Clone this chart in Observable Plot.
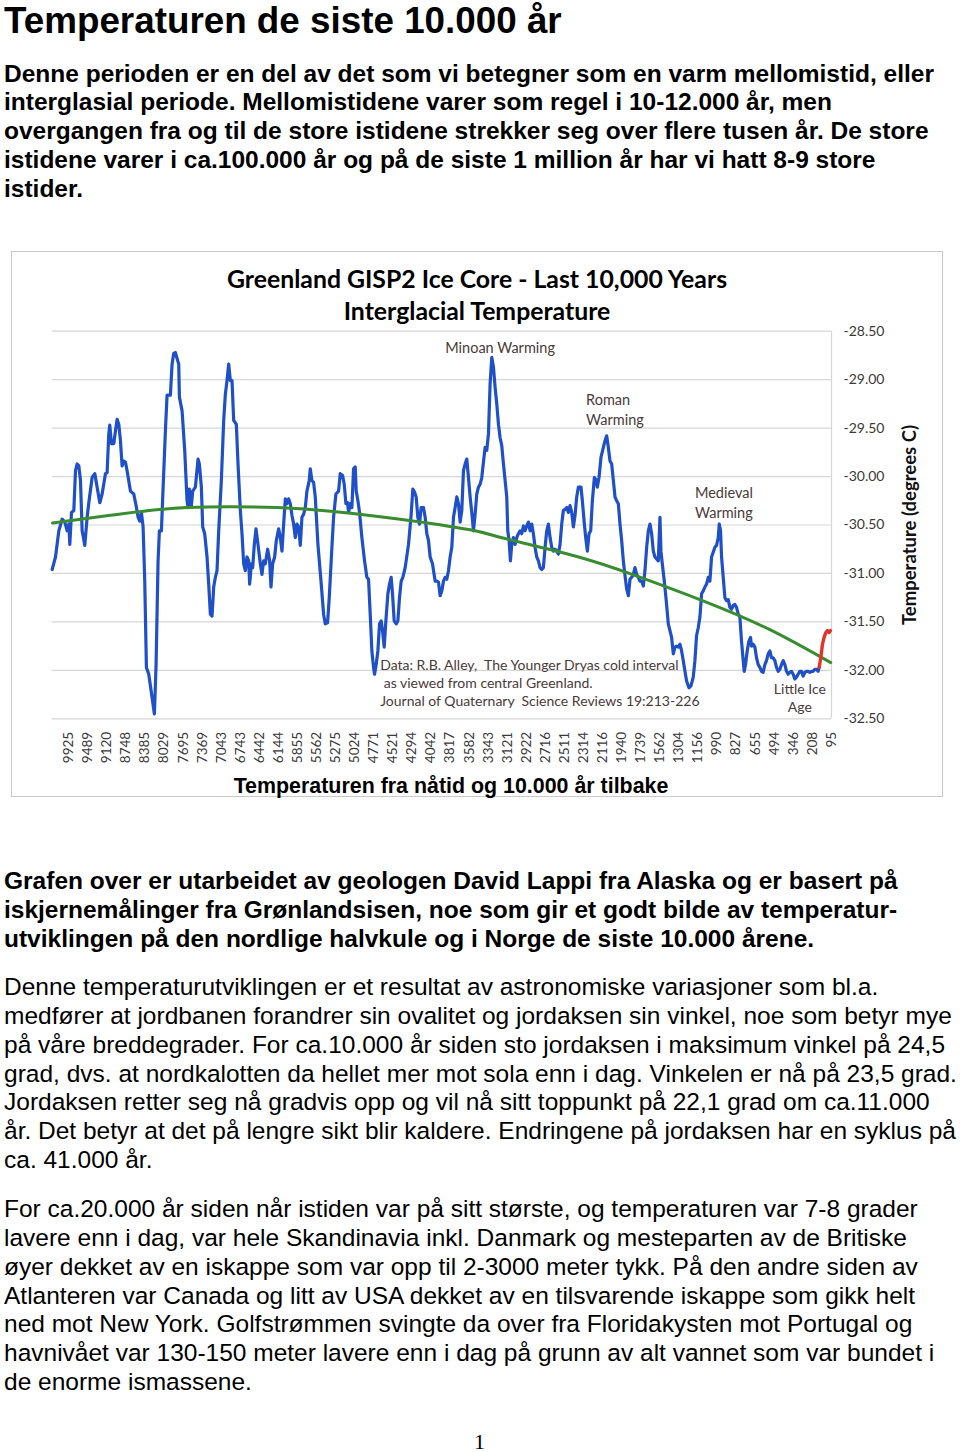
<!DOCTYPE html>
<html><head><meta charset="utf-8">
<script src="https://cdn.jsdelivr.net/npm/d3@7"></script>
<script src="https://cdn.jsdelivr.net/npm/@observablehq/plot@0.6"></script>
<style>
html,body{margin:0;padding:0;background:#fff}
body{position:relative;width:960px;height:1452px;overflow:hidden;font-family:"Liberation Sans",Arial,sans-serif;color:#000}
.t{position:absolute;left:4px;white-space:nowrap;font-size:24.5px;line-height:28.8px}
.b{font-weight:bold}
#h1{position:absolute;left:4px;top:0px;font-size:36.8px;line-height:41.2px;font-weight:bold;white-space:nowrap}
#box{position:absolute;left:11px;top:251px;width:930px;height:544px;border:1.5px solid #c9c9c9}
.ct{position:absolute;left:11px;width:932px;text-align:center;font-family:Lato,sans-serif;font-weight:bold;font-size:24.8px;line-height:31.7px;white-space:nowrap;color:#000}
#xt{position:absolute;left:11px;width:880px;text-align:center;top:773.6px;font-size:21.4px;line-height:24px;font-weight:bold;white-space:nowrap}
#chart{position:absolute;left:12px;top:322px}
#pg{position:absolute;left:474px;top:1430px;font-family:"Liberation Serif",serif;font-size:22px;line-height:24px}
</style></head>
<body>
<div id="h1">Temperaturen de siste 10.000 år</div>
<div class="t b" style="top:59.6px">Denne perioden er en del av det som vi betegner som en varm mellomistid, eller<br>interglasial periode. Mellomistidene varer som regel i 10-12.000 år, men<br>overgangen fra og til de store istidene strekker seg over flere tusen år. De store<br>istidene varer i ca.100.000 år og på de siste 1 million år har vi hatt 8-9 store<br>istider.</div>
<div id="box"></div>
<div class="ct" style="top:262.8px">Greenland GISP2 Ice Core - Last 10,000 Years</div>
<div class="ct" style="top:294.5px">Interglacial Temperature</div>
<div id="chart"></div>
<div id="xt">Temperaturen fra nåtid og 10.000 år tilbake</div>
<div class="t b" style="top:867.3px">Grafen over er utarbeidet av geologen David Lappi fra Alaska og er basert på<br>iskjernemålinger fra Grønlandsisen, noe som gir et godt bilde av temperatur-<br>utviklingen på den nordlige halvkule og i Norge de siste 10.000 årene.</div>
<div class="t" style="top:973.3px">Denne temperaturutviklingen er et resultat av astronomiske variasjoner som bl.a.<br>medfører at jordbanen forandrer sin ovalitet og jordaksen sin vinkel, noe som betyr mye<br>på våre breddegrader. For ca.10.000 år siden sto jordaksen i maksimum vinkel på 24,5<br>grad, dvs. at nordkalotten da hellet mer mot sola enn i dag. Vinkelen er nå på 23,5 grad.<br>Jordaksen retter seg nå gradvis opp og vil nå sitt toppunkt på 22,1 grad om ca.11.000<br>år. Det betyr at det på lengre sikt blir kaldere. Endringene på jordaksen har en syklus på<br>ca. 41.000 år.</div>
<div class="t" style="top:1195.3px">For ca.20.000 år siden når istiden var på sitt største, og temperaturen var 7-8 grader<br>lavere enn i dag, var hele Skandinavia inkl. Danmark og mesteparten av de Britiske<br>øyer dekket av en iskappe som var opp til 2-3000 meter tykk. På den andre siden av<br>Atlanteren var Canada og litt av USA dekket av en tilsvarende iskappe som gikk helt<br>ned mot New York. Golfstrømmen svingte da over fra Floridakysten mot Portugal og<br>havnivået var 130-150 meter lavere enn i dag på grunn av alt vannet som var bundet i<br>de enorme ismassene.</div>
<div id="pg">1</div>
<script>
// x-axis tick labels (years before present), one per 10 samples
const tickYears = ["9925", "9489", "9120", "8748", "8385", "8029", "7695", "7369", "7043", "6743", "6442", "6144", "5855", "5562", "5275", "5024", "4771", "4521", "4294", "4042", "3817", "3582", "3343", "3121", "2922", "2716", "2511", "2314", "2116", "1940", "1739", "1562", "1304", "1156", "990", "827", "655", "494", "346", "208", "95"];
const tempTicks = [-28.5, -29, -29.5, -30, -30.5, -31, -31.5, -32, -32.5];

// GISP2 temperature series (sample position, degrees C)
const blueIdx = [-8.72,-6.97,-5.22,-3.48,-2.08,-0.86,0.02,0.54,1.41,2.64,3.51,4.38,5.26,6.13,7.00,8.40,9.62,10.50,12.24,13.64,14.86,16.26,17.48,19.23,20.10,20.98,21.50,22.37,23.60,24.47,25.34,26.22,27.09,27.96,28.84,29.71,30.58,32.33,34.08,35.30,36.35,37.22,38.09,38.97,39.84,40.71,41.94,43.68,44.90,45.78,46.82,47.52,48.57,49.27,50.67,51.54,53.29,54.16,55.03,55.90,
57.66,58.01,59.40,60.80,62.02,62.55,63.25,64.29,64.99,66.39,67.79,68.48,69.53,70.23,71.28,72.50,73.38,74.25,75.12,76.00,76.87,77.74,78.62,80.01,81.24,82.11,82.98,83.86,84.73,85.60,86.48,87.87,88.75,89.97,90.84,91.72,92.59,93.46,94.34,94.86,95.73,96.43,97.30,98.18,99.23,100.45,101.32,102.20,103.07,104.29,105.34,106.04,106.91,107.96,108.83,110.06,110.93,111.80,112.68,113.55,114.42,115.29,116.17,117.04,117.91,118.79,119.66,120.53,121.41,122.28,123.15,124.03,
124.89,126.12,126.64,127.51,128.39,129.26,130.66,132.40,133.63,134.50,135.72,136.60,137.99,138.87,140.09,141.49,142.36,143.58,144.46,145.33,146.20,146.73,147.60,148.47,149.35,150.22,150.74,151.62,152.49,153.71,155.11,156.33,157.21,158.08,158.95,159.83,160.35,161.22,162.10,162.97,163.84,164.54,165.41,166.29,167.34,168.21,169.08,169.78,170.65,171.70,172.58,173.45,174.32,175.19,176.42,178.17,179.56,180.43,181.31,182.18,183.06,183.93,184.80,186.02,186.90,187.77,188.64,189.52,190.74,192.14,
193.01,193.89,194.76,195.63,196.51,197.38,198.25,199.13,200.00,200.87,201.75,202.62,203.49,204.37,205.24,206.11,206.99,207.86,208.73,209.61,210.48,211.35,212.23,213.10,213.97,214.85,215.72,216.59,217.47,218.34,219.21,220.09,220.96,221.83,222.71,223.58,224.45,225.33,226.20,227.07,227.95,228.82,229.69,230.22,230.91,231.61,232.31,233.18,234.06,234.93,235.80,236.68,237.55,238.42,239.30,240.17,241.04,241.92,242.79,243.66,244.54,245.41,246.28,247.16,248.03,248.90,249.78,250.65,251.52,252.40,253.27,254.14,255.02,255.89,256.76,257.64,258.51,259.38,260.26,
261.13,262.01,262.88,263.75,264.63,265.50,266.37,267.25,268.64,269.34,270.39,271.09,271.96,272.84,273.71,274.58,275.63,276.33,277.20,278.07,279.12,280.35,281.22,282.09,282.97,283.84,284.71,285.59,286.46,287.33,288.21,289.08,289.95,290.83,291.70,292.57,293.45,294.32,295.19,296.07,296.94,297.81,298.69,299.56,300.44,301.31,302.18,303.06,303.93,304.80,305.67,306.55,307.42,308.29,309.17,310.04,310.56,311.26,312.31,313.18,314.41,316.15,317.03,317.90,318.77,319.65,320.52,321.39,322.27,323.14,324.01,325.23,326.28,327.50,328.37,
329.24,330.12,330.99,331.86,332.74,333.61,334.48,335.36,336.23,337.10,337.98,338.85,339.72,340.60,341.12,341.82,342.34,343.22,344.09,344.96,345.84,346.71,347.58,348.46,349.33,350.20,351.08,351.95,352.82,353.70,354.22,354.92,355.79,356.67,357.54,358.06,358.94,359.81,360.68,361.56,362.43,363.30,364.18,365.05,365.92,366.80,367.67,368.54,369.42,370.29,371.16,372.04,372.91,373.78,374.66,375.53,376.40,377.28,378.15,379.02,379.90,380.77,381.64,382.51,383.39,384.26,385.13,386.01,386.88,387.75,388.63,389.50,390.37,391.25,392.12,392.99,393.52];
const blueTemp = [-30.96,-30.83,-30.56,-30.44,-30.47,-30.56,-30.49,-30.70,-30.37,-30.35,-29.94,-29.87,-29.89,-30.04,-30.56,-30.71,-30.42,-30.27,-30.01,-29.97,-30.11,-30.27,-30.18,-29.97,-29.96,-29.56,-29.47,-29.66,-29.66,-29.53,-29.41,-29.46,-29.63,-29.89,-29.84,-29.85,-29.94,-30.15,-30.18,-30.30,-30.42,-30.46,-30.37,-30.52,-31.08,-31.97,-32.04,-32.28,-32.45,-31.94,-30.87,-30.56,-30.56,-30.21,-29.53,-29.16,-29.16,-28.84,-28.73,-28.72,
-28.84,-29.18,-29.32,-29.73,-30.25,-30.32,-30.13,-30.30,-30.15,-30.11,-29.82,-29.87,-30.11,-30.52,-30.59,-30.83,-31.11,-31.42,-31.44,-31.14,-31.04,-30.97,-30.56,-30.04,-29.42,-29.15,-29.01,-28.84,-29.01,-29.01,-29.42,-29.46,-29.87,-30.35,-30.59,-30.90,-30.97,-30.83,-30.87,-31.11,-30.90,-30.94,-30.70,-30.54,-30.70,-30.90,-31.01,-30.87,-30.90,-30.75,-30.87,-31.14,-30.90,-30.83,-30.66,-30.54,-30.63,-30.77,-30.49,-30.23,-30.28,-30.23,-30.28,-30.40,-30.49,-30.63,-30.49,-30.52,-30.71,-30.42,-30.39,-30.32,
-30.15,-30.04,-29.92,-30.04,-30.06,-30.21,-30.70,-31.11,-31.42,-31.52,-31.51,-31.25,-30.73,-30.42,-30.18,-30.15,-29.97,-29.99,-30.08,-30.28,-30.27,-30.37,-30.28,-30.32,-29.92,-29.90,-30.15,-30.25,-30.37,-30.63,-30.87,-31.04,-31.06,-31.42,-31.80,-31.97,-32.04,-31.94,-31.80,-31.52,-31.49,-31.59,-31.76,-31.49,-31.21,-31.11,-31.04,-31.21,-31.49,-31.52,-31.49,-31.25,-31.08,-31.04,-30.94,-30.70,-30.39,-30.13,-30.16,-30.21,-30.42,-30.49,-30.32,-30.32,-30.42,-30.59,-30.66,-30.83,-30.90,-31.08,
-31.08,-31.09,-31.23,-31.18,-31.08,-31.04,-31.06,-30.97,-30.83,-30.73,-30.42,-30.32,-30.21,-30.28,-30.47,-30.35,-29.94,-29.87,-29.82,-30.01,-30.21,-30.37,-30.56,-30.39,-30.18,-30.11,-30.08,-30.01,-29.85,-29.70,-29.73,-29.56,-29.04,-28.77,-28.87,-29.08,-29.25,-29.46,-29.60,-29.68,-29.87,-30.04,-30.21,-30.56,-30.66,-30.87,-30.70,-30.63,-30.70,-30.63,-30.59,-30.56,-30.59,-30.51,-30.56,-30.51,-30.47,-30.56,-30.49,-30.59,-30.73,-30.83,-30.87,-30.94,-30.96,-30.94,-30.73,-30.56,-30.49,-30.63,-30.73,-30.77,-30.75,-30.77,-30.80,-30.70,-30.49,-30.35,-30.34,
-30.32,-30.37,-30.30,-30.37,-30.52,-30.40,-30.21,-30.11,-30.11,-30.25,-30.49,-30.63,-30.77,-30.59,-30.56,-30.25,-30.01,-30.03,-30.11,-30.01,-29.80,-29.70,-29.63,-29.58,-29.70,-29.84,-29.87,-30.04,-30.21,-30.25,-30.28,-30.49,-30.66,-30.87,-31.02,-31.16,-31.23,-31.06,-31.04,-31.01,-30.94,-31.01,-31.04,-31.08,-31.08,-31.13,-30.97,-30.73,-30.56,-30.49,-30.59,-30.77,-30.83,-30.85,-30.87,-30.42,-30.77,-30.90,-31.08,-31.25,-31.52,-31.66,-31.83,-31.76,-31.75,-31.76,-31.73,-31.80,-31.90,-32.01,-32.11,-32.18,-32.16,-32.07,-31.90,
-31.64,-31.56,-31.45,-31.21,-31.18,-31.14,-31.11,-31.04,-31.08,-30.83,-30.78,-30.73,-30.71,-30.63,-30.49,-30.56,-30.83,-31.04,-31.25,-31.28,-31.27,-31.35,-31.37,-31.33,-31.32,-31.35,-31.42,-31.45,-31.70,-31.90,-32.01,-31.94,-31.80,-31.70,-31.66,-31.75,-31.73,-31.76,-31.87,-31.94,-31.97,-32.01,-32.02,-31.94,-31.90,-31.83,-31.80,-31.87,-31.87,-31.90,-31.97,-32.01,-31.99,-31.94,-31.90,-31.94,-32.01,-32.04,-32.02,-32.01,-32.04,-32.09,-32.07,-32.04,-32.01,-32.01,-32.06,-32.02,-32.01,-32.01,-32.02,-32.01,-32.01,-31.99,-31.99,-32.01,-31.97];

// Recent warming (red segment)
const redIdx = [393.52,394.39,395.26,396.14,397.01,397.88,398.76,399.46];
const redTemp = [-31.97,-31.87,-31.73,-31.66,-31.61,-31.59,-31.61,-31.59];

// Long-term trend (green curve)
const trendIdx = [-8.54,21.85,62.2,109.4,138.7,173.8,210.5,228.8,265.5,296.9,333.6,367.7,399.6];
const trendTemp = [-30.48,-30.40,-30.32,-30.32,-30.36,-30.44,-30.55,-30.64,-30.82,-31.02,-31.29,-31.58,-31.92];

const tickIdx = tickYears.map((_, i) => i * 10);
const blue = blueIdx.map((x, i) => ({x, y: blueTemp[i]}));
const red = redIdx.map((x, i) => ({x, y: redTemp[i]}));
const trend = trendIdx.map((x, i) => ({x, y: trendTemp[i]}));

const annColor = "#4a3a3a";
const annFont = "Lato, sans-serif";

const chart = Plot.plot({
  width: 928,
  height: 445,
  marginLeft: 39.7,
  marginRight: 109,
  marginTop: 8.7,
  marginBottom: 48.7,
  style: {fontFamily: annFont, background: "transparent", overflow: "visible"},
  x: {domain: [-8.7, 400], axis: null},
  y: {domain: [-32.5, -28.5], axis: null},
  marks: [
    Plot.ruleY(tempTicks, {stroke: "#d6d6d6", strokeWidth: 1.2}),
    Plot.ruleX([400], {stroke: "#d6d6d6", strokeWidth: 1.2}),
    Plot.axisX(tickIdx, {anchor: "bottom", tickSize: 0, tickPadding: 13, tickRotate: -90,
      tickFormat: d => tickYears[Math.round(d / 10)], fontSize: 13.5, fill: "#3a3a3a", label: null}),
    Plot.axisY(tempTicks, {anchor: "right", tickSize: 0, tickPadding: 12,
      tickFormat: d => d.toFixed(2), fontSize: 14, fill: "#3a3a3a", label: null}),
    Plot.text(["Temperature (degrees C)"], {frameAnchor: "right", textAnchor: "middle", rotate: -90, dx: 79,
      fontSize: 18.5, fontWeight: "bold", fill: "#111"}),
    Plot.line(blue, {x: "x", y: "y", stroke: "#1f50c8", strokeWidth: 3.2, strokeLinejoin: "round"}),
    Plot.line(trend, {x: "x", y: "y", curve: "natural", stroke: "#3a8c30", strokeWidth: 3}),
    Plot.line(red, {x: "x", y: "y", stroke: "#e3342a", strokeWidth: 3.4, strokeLinejoin: "round"}),
    Plot.text(["Minoan Warming"], {x: 226.2, y: -28.68, fontSize: 14.5, fill: annColor}),
    Plot.text(["Roman\nWarming"], {x: 271.3, y: -29.30, textAnchor: "start", lineHeight: 1.38, fontSize: 14.5, fill: annColor}),
    Plot.text(["Medieval\nWarming"], {x: 328.4, y: -30.26, textAnchor: "start", lineHeight: 1.38, fontSize: 14.5, fill: annColor}),
    Plot.text(["Data: R.B. Alley,\u00a0 The Younger Dryas cold interval\n\u00a0as viewed from central Greenland.\nJournal of Quaternary\u00a0 Science Reviews 19:213-226"],
      {x: 163.3, y: -32.125, textAnchor: "start", lineHeight: 1.29, fontSize: 14, fill: annColor}),
    Plot.text(["Little Ice\nAge"], {x: 383.4, y: -32.28, lineHeight: 1.29, fontSize: 14, fill: annColor})
  ]
});
document.getElementById("chart").appendChild(chart);
</script>
</body></html>
